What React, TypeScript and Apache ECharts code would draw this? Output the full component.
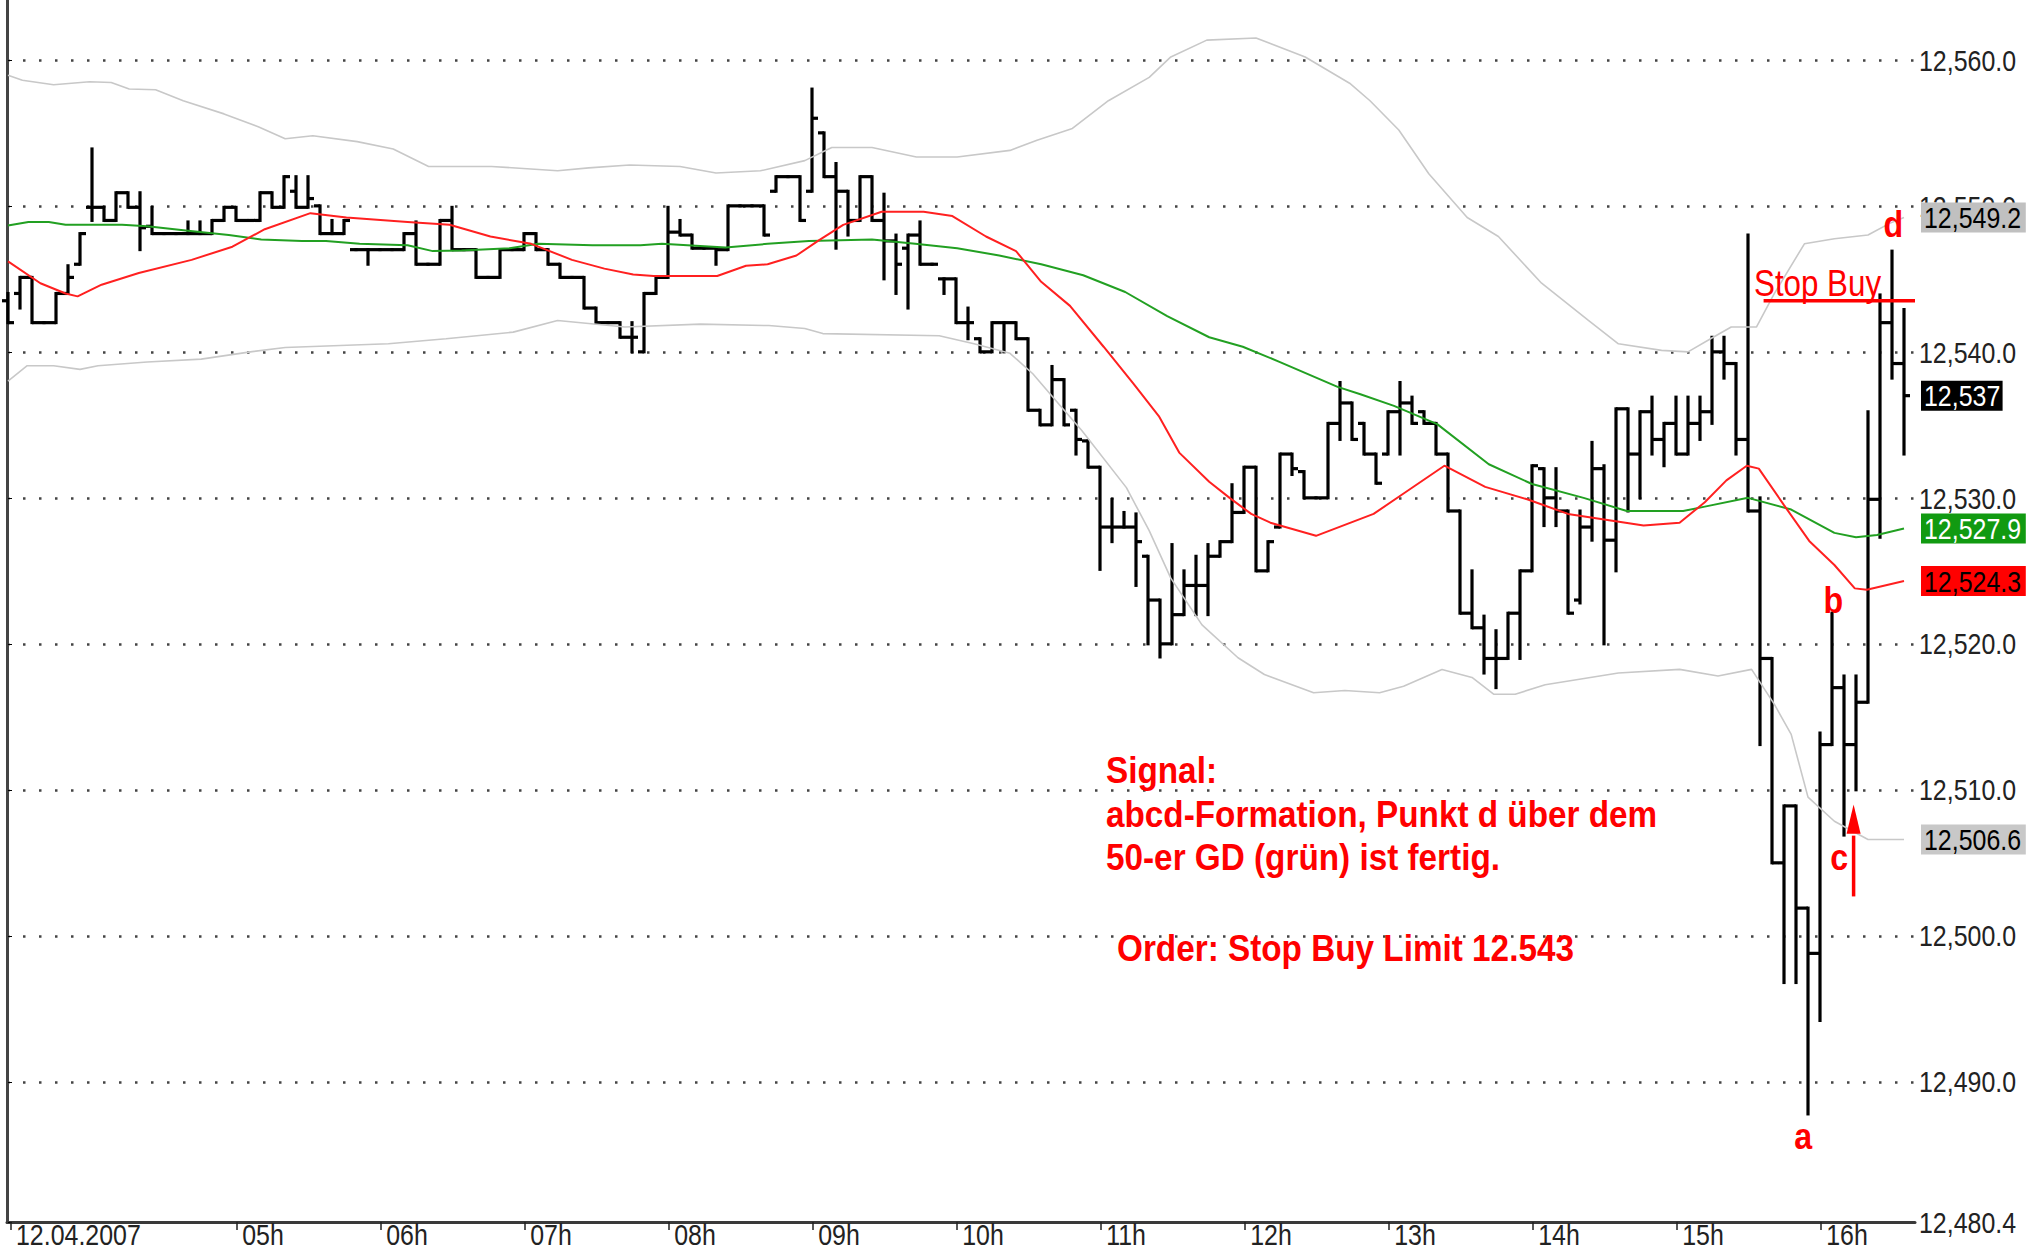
import React, { useEffect, useRef } from "react";
import * as echarts from "echarts";

// ---------- DATA ----------
// 5-minute OHLC bars, index 0 = first bar of 12.04.2007 in view: [open, high, low, close]
const ohlcBars: number[][] = [
  [12543.5, 12544.0, 12542.0, 12542.0], [12544.0, 12545.1, 12543.0, 12545.1], [12545.1, 12545.1, 12542.0, 12542.0],
  [12542.0, 12542.0, 12542.0, 12542.0], [12542.0, 12544.0, 12542.0, 12544.0], [12544.0, 12545.9, 12544.0, 12545.1],
  [12546.0, 12548.1, 12546.0, 12548.1], [12549.9, 12553.9, 12549.0, 12549.9], [12549.9, 12549.9, 12549.0, 12549.0],
  [12549.0, 12550.9, 12549.0, 12550.9], [12550.9, 12550.9, 12549.9, 12549.9], [12549.9, 12550.9, 12547.0, 12548.5],
  [12548.6, 12549.9, 12548.1, 12548.1], [12548.1, 12548.1, 12548.1, 12548.1], [12548.1, 12548.1, 12548.1, 12548.1],
  [12548.1, 12548.9, 12548.1, 12548.1], [12548.1, 12548.9, 12548.1, 12548.1], [12548.1, 12549.0, 12548.1, 12549.0],
  [12549.0, 12549.9, 12549.0, 12549.9], [12549.9, 12549.9, 12549.0, 12549.0], [12549.0, 12549.0, 12549.0, 12549.0],
  [12549.0, 12550.9, 12549.0, 12550.9], [12550.9, 12550.9, 12549.9, 12549.9], [12549.9, 12552.0, 12549.9, 12552.0],
  [12551.0, 12552.0, 12549.9, 12549.9], [12549.9, 12552.0, 12549.9, 12550.5], [12550.0, 12550.0, 12548.1, 12548.1],
  [12548.1, 12549.0, 12548.1, 12548.1], [12548.1, 12549.0, 12548.1, 12549.0], [12547.0, 12547.0, 12547.0, 12547.0],
  [12547.0, 12547.0, 12546.0, 12547.0], [12547.0, 12547.0, 12547.0, 12547.0], [12547.0, 12547.0, 12547.0, 12547.0],
  [12547.0, 12548.1, 12547.0, 12548.1], [12548.1, 12548.9, 12546.0, 12546.0], [12546.0, 12546.0, 12546.0, 12546.0],
  [12546.0, 12549.0, 12546.0, 12549.0], [12549.0, 12549.9, 12547.0, 12547.0], [12547.0, 12547.0, 12547.0, 12547.0],
  [12547.0, 12547.0, 12545.1, 12545.1], [12545.1, 12545.1, 12545.1, 12545.1], [12545.1, 12547.0, 12545.1, 12547.0],
  [12547.0, 12547.0, 12547.0, 12547.0], [12547.0, 12548.1, 12547.0, 12548.1], [12548.1, 12548.1, 12547.0, 12547.0],
  [12547.0, 12547.0, 12546.0, 12546.0], [12546.0, 12546.0, 12545.1, 12545.1], [12545.1, 12545.1, 12545.1, 12545.1],
  [12545.1, 12545.1, 12543.0, 12543.0], [12543.0, 12543.0, 12542.0, 12542.0], [12542.0, 12542.0, 12542.0, 12542.0],
  [12542.0, 12542.0, 12541.0, 12541.0], [12541.0, 12542.0, 12540.0, 12541.0], [12540.0, 12544.0, 12540.0, 12544.0],
  [12544.0, 12545.1, 12544.0, 12545.1], [12545.1, 12549.9, 12545.1, 12548.2], [12548.2, 12549.0, 12548.0, 12548.0],
  [12548.0, 12548.0, 12547.1, 12547.1], [12547.1, 12547.1, 12547.1, 12547.1], [12547.1, 12547.1, 12546.0, 12547.0],
  [12547.0, 12550.0, 12547.0, 12550.0], [12550.0, 12550.0, 12550.0, 12550.0], [12550.0, 12550.0, 12550.0, 12550.0],
  [12550.0, 12550.0, 12548.0, 12548.0], [12551.0, 12552.0, 12551.0, 12552.0], [12552.0, 12552.0, 12552.0, 12552.0],
  [12552.0, 12552.0, 12549.0, 12549.0], [12551.0, 12558.0, 12551.0, 12556.0], [12555.0, 12555.0, 12552.0, 12552.0],
  [12552.0, 12552.9, 12547.1, 12551.0], [12551.0, 12551.0, 12548.0, 12549.0], [12549.0, 12552.0, 12549.0, 12552.0],
  [12552.0, 12552.0, 12549.0, 12549.0], [12549.0, 12550.8, 12545.0, 12547.6], [12547.6, 12548.0, 12544.0, 12546.0],
  [12547.1, 12548.0, 12543.0, 12548.0], [12548.0, 12548.9, 12546.0, 12546.0], [12546.0, 12546.0, 12546.0, 12546.0],
  [12545.0, 12545.0, 12544.0, 12545.0], [12545.0, 12545.0, 12542.0, 12542.0], [12542.0, 12543.0, 12540.9, 12542.0],
  [12540.9, 12540.9, 12540.0, 12540.0], [12540.0, 12542.0, 12540.0, 12542.0], [12542.0, 12542.0, 12540.0, 12542.0],
  [12542.0, 12542.0, 12540.9, 12540.9], [12540.9, 12540.9, 12536.0, 12536.0], [12536.0, 12536.0, 12535.0, 12535.0],
  [12535.0, 12539.0, 12535.0, 12538.1], [12538.1, 12538.1, 12535.0, 12535.0], [12536.0, 12536.0, 12533.0, 12534.0],
  [12533.9, 12533.9, 12532.1, 12532.1], [12532.1, 12532.1, 12525.1, 12528.0], [12528.0, 12529.9, 12527.0, 12528.0],
  [12528.0, 12529.0, 12528.0, 12528.0], [12528.0, 12528.9, 12524.0, 12527.0], [12526.0, 12526.0, 12520.0, 12523.0],
  [12523.0, 12523.0, 12519.1, 12520.0], [12520.0, 12526.8, 12520.0, 12522.0], [12522.0, 12525.0, 12522.0, 12524.0],
  [12524.0, 12526.0, 12522.0, 12524.0], [12524.0, 12526.8, 12522.0, 12526.0], [12526.0, 12527.0, 12526.0, 12527.0],
  [12527.0, 12530.9, 12527.0, 12529.0], [12529.0, 12532.1, 12529.0, 12532.1], [12532.1, 12532.1, 12525.0, 12525.0],
  [12525.0, 12527.0, 12525.0, 12527.0], [12528.0, 12533.0, 12528.0, 12533.0], [12533.0, 12533.0, 12531.6, 12532.0],
  [12531.8, 12531.8, 12530.0, 12530.0], [12530.0, 12530.0, 12530.0, 12530.0], [12530.0, 12535.1, 12530.0, 12535.1],
  [12535.1, 12537.9, 12534.0, 12536.5], [12536.5, 12536.5, 12534.0, 12534.0], [12535.1, 12535.1, 12533.0, 12533.0],
  [12533.0, 12533.0, 12531.0, 12531.0], [12533.0, 12535.9, 12533.0, 12535.9], [12535.9, 12537.9, 12533.0, 12536.5],
  [12536.5, 12536.9, 12535.1, 12535.1], [12535.9, 12535.9, 12535.1, 12535.1], [12535.1, 12535.1, 12533.0, 12533.0],
  [12533.0, 12533.0, 12529.1, 12529.1], [12529.1, 12529.1, 12522.1, 12522.1], [12522.1, 12525.0, 12521.1, 12521.1],
  [12521.1, 12521.9, 12518.0, 12519.0], [12519.0, 12520.9, 12517.0, 12519.0], [12519.0, 12522.1, 12519.0, 12522.1],
  [12522.1, 12525.0, 12519.0, 12525.0], [12525.0, 12532.2, 12525.0, 12532.2], [12532.0, 12532.0, 12528.1, 12530.0],
  [12530.0, 12532.0, 12528.1, 12529.1], [12529.1, 12529.1, 12522.1, 12522.1], [12523.0, 12529.1, 12522.8, 12528.0],
  [12528.0, 12533.8, 12527.1, 12532.0], [12532.0, 12532.2, 12520.0, 12527.1], [12527.1, 12536.1, 12525.0, 12536.1],
  [12536.1, 12536.1, 12529.1, 12533.0], [12533.0, 12535.9, 12530.0, 12535.9], [12535.9, 12536.9, 12533.0, 12534.0],
  [12534.0, 12535.1, 12532.2, 12535.1], [12535.1, 12536.9, 12533.0, 12533.0], [12533.0, 12536.9, 12533.0, 12535.1],
  [12535.1, 12536.9, 12534.0, 12535.9], [12535.9, 12541.0, 12535.1, 12540.0], [12540.0, 12541.0, 12538.2, 12539.2],
  [12539.2, 12539.2, 12533.0, 12534.0], [12534.0, 12548.0, 12529.1, 12529.1], [12529.1, 12530.0, 12513.1, 12519.0],
  [12519.0, 12519.0, 12505.0, 12505.0], [12505.0, 12508.9, 12496.8, 12508.9], [12508.9, 12508.9, 12496.8, 12501.9],
  [12501.9, 12501.9, 12487.8, 12498.8], [12498.8, 12513.9, 12494.2, 12513.1], [12513.1, 12522.1, 12513.1, 12517.0],
  [12517.0, 12517.8, 12506.9, 12513.1], [12513.1, 12517.8, 12510.0, 12516.0], [12516.0, 12535.9, 12516.0, 12529.9],
  [12529.9, 12543.9, 12527.3, 12542.0], [12542.0, 12546.9, 12538.2, 12539.2], [12539.2, 12542.9, 12533.0, 12537.0],
];

// Short moving average (red): [bar index, value]
const redAverage: number[][] = [
  [0, 12546.2], [2.7, 12544.7], [4.8, 12544.0], [5.8, 12543.8], [7.8, 12544.6], [10.9, 12545.4], [15.3, 12546.3],
  [18.7, 12547.2], [21.4, 12548.4], [25.2, 12549.5], [28.2, 12549.2], [33.3, 12548.9], [36.8, 12548.7], [40.2, 12547.9],
  [43.6, 12547.4], [47, 12546.3], [49.7, 12545.7], [52.1, 12545.3], [53.8, 12545.2], [59.1, 12545.2], [61.5, 12545.9],
  [63.3, 12546.0], [65.7, 12546.6], [67.5, 12547.6], [69.6, 12548.7], [72.8, 12549.6], [76.3, 12549.6], [78.7, 12549.3],
  [81.5, 12547.9], [84, 12546.9], [86.1, 12544.8], [88.5, 12543.15], [91.3, 12540.35], [93.8, 12537.8], [95.9, 12535.6],
  [97.6, 12533.1], [100.1, 12531.1], [101.8, 12530.0], [103.6, 12528.9], [105.2, 12528.3], [109, 12527.4], [113.8, 12528.9],
  [116.3, 12530.3], [119.7, 12532.2], [123.1, 12530.75], [126.6, 12529.9], [130, 12528.9], [136.3, 12528.1], [139.3, 12528.3],
  [141.4, 12529.7], [143.2, 12531.2], [144.9, 12532.2], [145.9, 12532.0], [148, 12529.5], [150.1, 12527.05], [152.2, 12525.4],
  [153.9, 12523.8], [154.9, 12523.7], [158, 12524.3],
];

// 50-period average "50-er GD" (green)
const greenAverage: number[][] = [
  [0, 12548.65], [1.7, 12548.9], [3.4, 12548.9], [4.8, 12548.7], [9.5, 12548.7], [11.6, 12548.6], [15, 12548.3],
  [18.4, 12548.0], [21.1, 12547.7], [24.5, 12547.6], [26.5, 12547.6], [29.3, 12547.4], [33.3, 12547.3], [35.4, 12546.9],
  [37.8, 12546.95], [41.8, 12547.1], [44.2, 12547.4], [48.7, 12547.3], [52.7, 12547.3], [54.5, 12547.4], [59.8, 12547.15],
  [63.3, 12547.4], [66.75, 12547.6], [72, 12547.7], [75.6, 12547.4], [79.1, 12547.1], [82.6, 12546.6], [86.1, 12546.0],
  [89.6, 12545.25], [93.1, 12544.1], [96.6, 12542.45], [100.1, 12541.0], [102.9, 12540.35], [106, 12539.3], [110.8, 12537.6],
  [112.7, 12537.1], [115.5, 12536.3], [119.1, 12535.05], [123.4, 12532.3], [127, 12530.95], [131.3, 12530.0], [134.9, 12529.1],
  [139.6, 12529.1], [141.4, 12529.4], [145, 12530.0], [148.6, 12529.2], [152.2, 12527.6], [154, 12527.3], [155.75, 12527.45],
  [158, 12527.9],
];

// Upper and lower band (grey)
const upperBand: number[][] = [
  [0, 12558.95], [1.2, 12558.6], [3.8, 12558.3], [6.8, 12558.5], [8.6, 12558.45], [10.1, 12558.0], [12.3, 12557.95],
  [14.6, 12557.2], [18, 12556.3], [20.9, 12555.4], [23.1, 12554.6], [25.4, 12554.8], [29.1, 12554.4], [32.1, 12553.9],
  [35.05, 12552.7], [40.3, 12552.7], [45.8, 12552.4], [48.4, 12552.6], [51.8, 12552.8], [56, 12552.7], [59, 12552.25],
  [62.7, 12552.4], [66.4, 12553.1], [68.65, 12554.0], [72, 12554.0], [75.7, 12553.35], [79.1, 12553.35], [83.5, 12553.8],
  [85.75, 12554.5], [88.7, 12555.3], [91.7, 12557.2], [95.1, 12558.8], [96.9, 12560.2], [99.9, 12561.35], [104, 12561.5],
  [108.1, 12560.2], [111.8, 12558.4], [113.5, 12557.2], [115.9, 12555.2], [118.4, 12552.2], [121.6, 12549.2], [124.2, 12547.9],
  [127.8, 12544.7], [131.7, 12542.15], [134.2, 12540.55], [137.8, 12540.1], [140, 12540.0], [142.1, 12541.0], [143.6, 12541.7],
  [145.7, 12541.7], [147.2, 12544.0], [149.7, 12547.4], [152.2, 12547.75], [155, 12548.0], [156.8, 12548.8], [158, 12549.2],
];
const lowerBand: number[][] = [
  [0, 12538.0], [1.6, 12539.05], [3.8, 12539.05], [6, 12538.8], [7.5, 12539.05], [11.6, 12539.3], [16.1, 12539.5],
  [20.2, 12540.0], [23.1, 12540.3], [31.7, 12540.55], [36.5, 12540.9], [42.1, 12541.35], [45.8, 12542.15], [51.4, 12541.7],
  [57.7, 12541.9], [63.4, 12541.8], [66.4, 12541.6], [67.9, 12541.25], [77.6, 12541.1], [80.5, 12540.55], [83.5, 12539.9],
  [85.4, 12538.5], [87.6, 12536.4], [89.5, 12534.6], [93.2, 12530.7], [95.1, 12527.75], [96.9, 12524.5], [99.5, 12521.3],
  [102.5, 12519.05], [104.7, 12517.9], [108.8, 12516.65], [111.4, 12516.8], [114.3, 12516.65], [116.3, 12517.1],
  [119.5, 12518.25], [122, 12517.7], [123.8, 12516.55], [125.6, 12516.55], [128.1, 12517.2], [134.2, 12518.0],
  [139.3, 12518.25], [142.5, 12517.8], [145.3, 12518.25], [147.2, 12515.85], [148.6, 12513.8], [150, 12509.5],
  [152.2, 12507.85], [155, 12506.6], [158, 12506.6],
];

// Axis ticks
const timeTickBars = [0.25, 19.1, 31.1, 43.1, 55.1, 67.1, 79.1, 91.1, 103.1, 115.1, 127.1, 139.1, 151.1];
const timeTickLabels = ["12.04.2007", "05h", "06h", "07h", "08h", "09h", "10h", "11h", "12h", "13h", "14h", "15h", "16h"];
const priceTicks = [12480.4, 12490, 12500, 12510, 12520, 12530, 12540, 12550, 12560];
const priceMin = 12480.4;
const priceMax = 12564.1;

// Annotations
const stopBuyLevel = 12543.5;
const stopBuyFromBar = 146.3;
const endValues = [
  { value: 12549.2, text: "12,549.2", bg: "#c0c0c0", fg: "#000000" },
  { value: 12537, text: "12,537", bg: "#000000", fg: "#ffffff" },
  { value: 12527.9, text: "12,527.9", bg: "#119a11", fg: "#ffffff" },
  { value: 12524.3, text: "12,524.3", bg: "#ff0000", fg: "#000000" },
  { value: 12506.6, text: "12,506.6", bg: "#c8c8c8", fg: "#000000" },
];
const pointLetters = [
  { t: "a", bar: 149.6, value: 12486.3 },
  { t: "b", bar: 152.1, value: 12523.0 },
  { t: "c", bar: 152.6, value: 12505.4 },
  { t: "d", bar: 157.1, value: 12548.75 },
];
const arrowBar = 153.8;
const arrowTip = 12509.0;
const arrowHeadBase = 12507.0;
const arrowTail = 12502.7;
const signalLines = ["Signal:", "abcd-Formation, Punkt d über dem", "50-er GD (grün) ist fertig."];
const orderLine = "Order: Stop Buy Limit 12.543";

const SANS = "'Liberation Sans', Arial, sans-serif";
const AXIS_FONT = 29;
const AXIS_SCALE = 0.86;

const fmtPrice = (v: number) => {
  const s = v.toFixed(1);
  const [int, dec] = s.split(".");
  return int.slice(0, -3) + "," + int.slice(-3) + "." + dec;
};

export default function App() {
  const ref = useRef<HTMLDivElement>(null);
  useEffect(() => {
    const chart = echarts.init(ref.current!, null, { renderer: "svg" });
    const xMin = -1 / 12;
    const xMax = ohlcBars.length - 1 / 12;
    const option: any = {
      animation: false,
      backgroundColor: "#ffffff",
      textStyle: { fontFamily: SANS },
      grid: { left: 7, right: 121, top: 0, bottom: 28, containLabel: false },
      xAxis: {
        type: "value",
        min: xMin,
        max: xMax,
        axisLine: { show: true, onZero: false, lineStyle: { color: "#3a3a3a", width: 3 } },
        axisTick: { show: true, customValues: timeTickBars, length: 8, lineStyle: { color: "#222", width: 1.5 } },
        axisLabel: { show: false, customValues: timeTickBars },
        splitLine: { show: false },
      },
      yAxis: [
        {
          type: "value",
          position: "right",
          min: priceMin,
          max: priceMax,
          axisLine: { show: true, lineStyle: { color: "#000", width: 2 } },
          axisTick: { show: true, customValues: priceTicks, length: 4, lineStyle: { color: "#000" } },
          axisLabel: { show: false, customValues: priceTicks },
          splitLine: { show: true, lineStyle: { color: "#444", width: 2.5, type: [2.5, 13.5] } },
        },
        {
          type: "value",
          position: "left",
          min: priceMin,
          max: priceMax,
          axisLine: { show: true, lineStyle: { color: "#444", width: 3 } },
          axisTick: { show: false },
          axisLabel: { show: false },
          splitLine: { show: false },
        },
      ],
      series: [
        { type: "line", data: upperBand, showSymbol: false, silent: true, lineStyle: { color: "#c8c8c8", width: 1.6 } },
        { type: "line", data: lowerBand, showSymbol: false, silent: true, lineStyle: { color: "#c8c8c8", width: 1.6 } },
        { type: "line", data: greenAverage, showSymbol: false, silent: true, lineStyle: { color: "#22a022", width: 2 } },
        { type: "line", data: redAverage, showSymbol: false, silent: true, lineStyle: { color: "#ff2020", width: 2 } },
        {
          type: "custom",
          silent: true,
          data: ohlcBars.map((b, i) => [i, b[0], b[1], b[2], b[3]]),
          encode: { x: 0, y: [1, 2, 3, 4] },
          renderItem: (params: any, api: any) => {
            const i = api.value(0);
            const pO = api.coord([i, api.value(1)]);
            const pH = api.coord([i, api.value(2)]);
            const pL = api.coord([i, api.value(3)]);
            const pC = api.coord([i, api.value(4)]);
            const x = pH[0];
            const style = { stroke: "#000", lineWidth: 3.2, lineCap: "butt" };
            return {
              type: "group",
              children: [
                { type: "line", shape: { x1: x, y1: pH[1] - 1.5, x2: x, y2: pL[1] + 1.5 }, style },
                { type: "line", shape: { x1: x - 6, y1: pO[1], x2: x, y2: pO[1] }, style },
                { type: "line", shape: { x1: x, y1: pC[1], x2: x + 6, y2: pC[1] }, style },
              ],
            };
          },
        },
        {
          type: "line",
          data: [[stopBuyFromBar, stopBuyLevel], [xMax, stopBuyLevel]],
          showSymbol: false,
          silent: true,
          lineStyle: { color: "#ff0000", width: 3.5 },
          z: 5,
        },
      ],
    };
    chart.setOption(option);

    const px = (x: number, y: number) =>
      chart.convertToPixel({ xAxisIndex: 0, yAxisIndex: 0 }, [x, y]) as number[];
    const axisRight = px(xMax, priceMin)[0];
    const axisBottom = px(xMin, priceMin)[1];
    const graphics: any[] = [];

    // price axis labels (condensed like the original)
    priceTicks.forEach((v) => {
      const y = px(0, v)[1];
      graphics.push({
        type: "text", x: axisRight + 4, y: y + 1, scaleX: AXIS_SCALE, z: 40,
        style: { text: fmtPrice(v), fill: "#222", fontSize: AXIS_FONT, fontFamily: SANS, align: "left", verticalAlign: "middle" },
      });
    });
    // time axis labels
    timeTickBars.forEach((b, k) => {
      const x = px(b, priceMin)[0];
      graphics.push({
        type: "text", x: x + 5, y: axisBottom + 13, scaleX: AXIS_SCALE, z: 40,
        style: { text: timeTickLabels[k], fill: "#222", fontSize: AXIS_FONT, fontFamily: SANS, align: "left", verticalAlign: "middle" },
      });
    });

    endValues.forEach((e) => {
      const y = px(0, e.value)[1];
      const w = 12 + 11.6 * e.text.length;
      graphics.push({
        type: "rect", x: axisRight + 6, y: y - 15, z: 100,
        shape: { width: w, height: 30 }, style: { fill: e.bg },
      });
      graphics.push({
        type: "text", x: axisRight + 9, y: y + 1, scaleX: AXIS_SCALE, z: 101,
        style: { text: e.text, fill: e.fg, fontSize: AXIS_FONT, fontFamily: SANS, align: "left", verticalAlign: "middle" },
      });
    });

    // Stop Buy label
    const sb = px(stopBuyFromBar - 0.8, stopBuyLevel);
    graphics.push({
      type: "text", x: sb[0], y: sb[1] - 18, scaleX: 0.87, z: 50,
      style: { text: "Stop Buy", fill: "#ff0000", fontSize: 36, fontFamily: SANS, align: "left", verticalAlign: "middle" },
    });

    // letters a b c d
    pointLetters.forEach((p) => {
      const q = px(p.bar, p.value);
      graphics.push({
        type: "text", x: q[0], y: q[1], scaleX: 0.87, z: 50,
        style: { text: p.t, fill: "#ff0000", fontSize: 37, fontWeight: "bold", fontFamily: SANS, align: "center", verticalAlign: "middle" },
      });
    });

    // arrow at c
    const tip = px(arrowBar, arrowTip);
    const base = px(arrowBar, arrowHeadBase);
    const tail = px(arrowBar, arrowTail);
    graphics.push({
      type: "line", z: 50,
      shape: { x1: tail[0], y1: tail[1], x2: base[0], y2: base[1] + 2 },
      style: { stroke: "#ff0000", lineWidth: 3.5 },
    });
    graphics.push({
      type: "polygon", z: 50,
      shape: { points: [[tip[0], tip[1]], [tip[0] - 7, base[1]], [tip[0] + 7, base[1]]] },
      style: { fill: "#ff0000" },
    });

    // Signal text block
    const lineYs = [770, 814, 857];
    signalLines.forEach((t, k) => {
      graphics.push({
        type: "text", x: 1106, y: lineYs[k], scaleX: 0.9, z: 50,
        style: { text: t, fill: "#ff0000", fontSize: 37, fontWeight: "bold", fontFamily: SANS, align: "left", verticalAlign: "middle" },
      });
    });
    graphics.push({
      type: "text", x: 1117, y: 948, scaleX: 0.9, z: 50,
      style: { text: orderLine, fill: "#ff0000", fontSize: 37, fontWeight: "bold", fontFamily: SANS, align: "left", verticalAlign: "middle" },
    });

    chart.setOption({ graphic: graphics });
    return () => chart.dispose();
  }, []);
  return (
    <div
      ref={ref}
      style={{ position: "fixed", left: 0, top: 0, width: 2036, height: 1250, background: "#fff" }}
    />
  );
}
